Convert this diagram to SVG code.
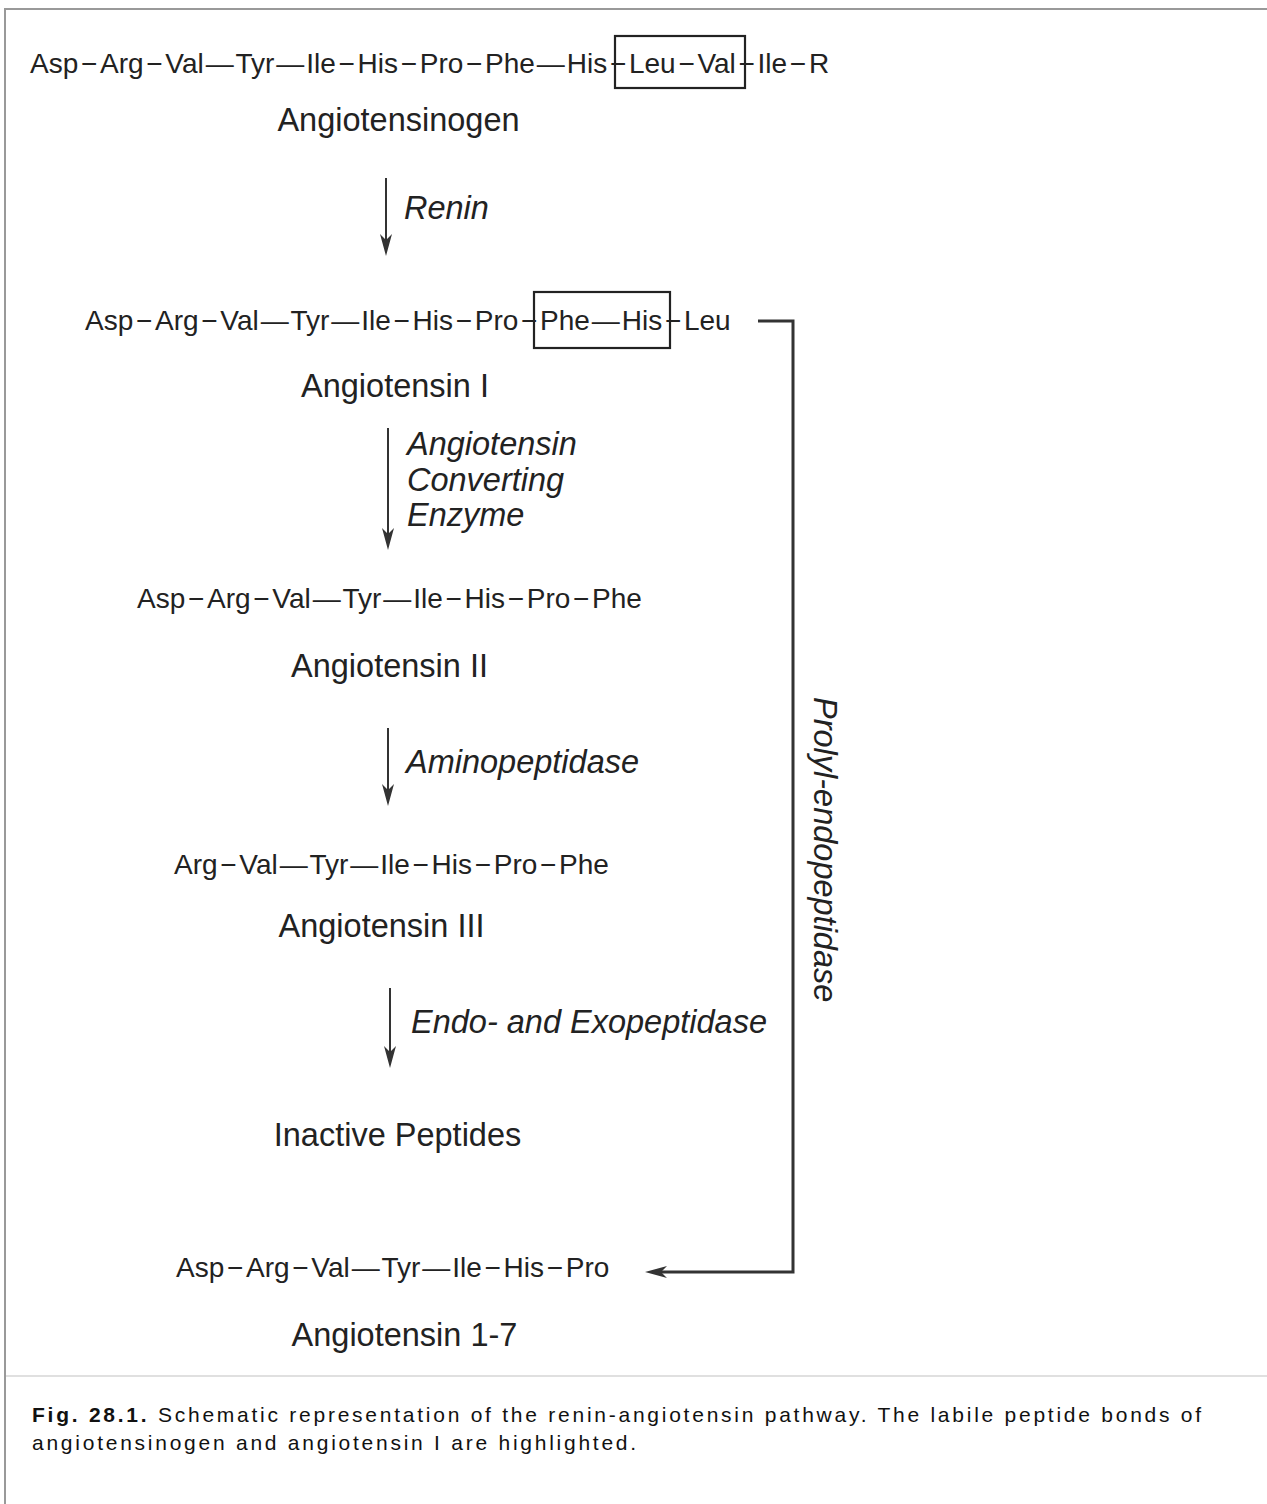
<svg xmlns="http://www.w3.org/2000/svg" width="1267" height="1504" viewBox="0 0 1267 1504">
  <style>
    .chain { font-family: "Liberation Sans", Arial, sans-serif; font-size: 28px; fill: #222; }
    .label { font-family: "Liberation Sans", Arial, sans-serif; font-size: 32.5px; fill: #222; text-anchor: middle; }
    .enz { font-family: "Liberation Sans", Arial, sans-serif; font-size: 32.5px; font-style: italic; fill: #222; }
    .cap { font-family: "Liberation Sans", Arial, sans-serif; font-size: 21px; letter-spacing: 2.75px; fill: #111; }
    .box { fill: none; stroke: #222; stroke-width: 2.2; }
    .arrow { fill: none; stroke: #333; stroke-width: 2; }
    .route { fill: none; stroke: #333; stroke-width: 3; }
    .frame { fill: none; stroke: #999; stroke-width: 2; }
  </style>
  <defs>
    <marker id="head" viewBox="-24 -7 26 14" refX="-10" refY="0" markerWidth="26" markerHeight="14" markerUnits="userSpaceOnUse" orient="auto">
      <path d="M0,0 L-22,-6 L-16,0 L-22,6 Z" fill="#333"/>
    </marker>
  </defs>

  <rect width="1267" height="1504" fill="#fff"/>

  <!-- page frame and caption rule -->
  <path class="frame" d="M5,1504 V9 H1267"/>
  <line x1="6" y1="1376" x2="1267" y2="1376" stroke="#e0e0e0" stroke-width="2"/>

  <!-- Angiotensinogen -->
  <g id="angiotensinogen">
    <text class="chain" x="30" y="73">Asp<tspan dx="2.7">−</tspan><tspan dx="2.7">Arg</tspan><tspan dx="2.7">−</tspan><tspan dx="2.7">Val</tspan><tspan dx="1.9">—</tspan><tspan dx="1.9">Tyr</tspan><tspan dx="1.9">—</tspan><tspan dx="1.9">Ile</tspan><tspan dx="2.7">−</tspan><tspan dx="2.7">His</tspan><tspan dx="2.7">−</tspan><tspan dx="2.7">Pro</tspan><tspan dx="2.7">−</tspan><tspan dx="2.7">Phe</tspan><tspan dx="1.9">—</tspan><tspan dx="1.9">His</tspan><tspan dx="2.7">−</tspan><tspan dx="2.7">Leu</tspan><tspan dx="2.7">−</tspan><tspan dx="2.7">Val</tspan><tspan dx="2.7">−</tspan><tspan dx="2.7">Ile</tspan><tspan dx="2.7">−</tspan><tspan dx="2.7">R</tspan></text>
    <rect class="box" x="615" y="36" width="130" height="52"/>
    <text class="label" x="398.5" y="131">Angiotensinogen</text>
  </g>

  <!-- Angiotensin I -->
  <g id="angiotensin-1">
    <text class="chain" x="85" y="330">Asp<tspan dx="2.7">−</tspan><tspan dx="2.7">Arg</tspan><tspan dx="2.7">−</tspan><tspan dx="2.7">Val</tspan><tspan dx="1.9">—</tspan><tspan dx="1.9">Tyr</tspan><tspan dx="1.9">—</tspan><tspan dx="1.9">Ile</tspan><tspan dx="2.7">−</tspan><tspan dx="2.7">His</tspan><tspan dx="2.7">−</tspan><tspan dx="2.7">Pro</tspan><tspan dx="2.7">−</tspan><tspan dx="2.7">Phe</tspan><tspan dx="1.9">—</tspan><tspan dx="1.9">His</tspan><tspan dx="2.7">−</tspan><tspan dx="2.7">Leu</tspan></text>
    <rect class="box" x="534" y="292" width="136" height="56"/>
    <text class="label" x="395" y="397">Angiotensin I</text>
  </g>

  <!-- Angiotensin II -->
  <g id="angiotensin-2">
    <text class="chain" x="137" y="608">Asp<tspan dx="2.7">−</tspan><tspan dx="2.7">Arg</tspan><tspan dx="2.7">−</tspan><tspan dx="2.7">Val</tspan><tspan dx="1.9">—</tspan><tspan dx="1.9">Tyr</tspan><tspan dx="1.9">—</tspan><tspan dx="1.9">Ile</tspan><tspan dx="2.7">−</tspan><tspan dx="2.7">His</tspan><tspan dx="2.7">−</tspan><tspan dx="2.7">Pro</tspan><tspan dx="2.7">−</tspan><tspan dx="2.7">Phe</tspan></text>
    <text class="label" x="389.5" y="677">Angiotensin II</text>
  </g>

  <!-- Angiotensin III -->
  <g id="angiotensin-3">
    <text class="chain" x="174" y="874">Arg<tspan dx="2.7">−</tspan><tspan dx="2.7">Val</tspan><tspan dx="1.9">—</tspan><tspan dx="1.9">Tyr</tspan><tspan dx="1.9">—</tspan><tspan dx="1.9">Ile</tspan><tspan dx="2.7">−</tspan><tspan dx="2.7">His</tspan><tspan dx="2.7">−</tspan><tspan dx="2.7">Pro</tspan><tspan dx="2.7">−</tspan><tspan dx="2.7">Phe</tspan></text>
    <text class="label" x="381.5" y="937">Angiotensin III</text>
  </g>

  <!-- Inactive peptides -->
  <g id="inactive-peptides">
    <text class="label" x="397.5" y="1146">Inactive Peptides</text>
  </g>

  <!-- Angiotensin 1-7 -->
  <g id="angiotensin-1-7">
    <text class="chain" x="176" y="1277">Asp<tspan dx="2.7">−</tspan><tspan dx="2.7">Arg</tspan><tspan dx="2.7">−</tspan><tspan dx="2.7">Val</tspan><tspan dx="1.9">—</tspan><tspan dx="1.9">Tyr</tspan><tspan dx="1.9">—</tspan><tspan dx="1.9">Ile</tspan><tspan dx="2.7">−</tspan><tspan dx="2.7">His</tspan><tspan dx="2.7">−</tspan><tspan dx="2.7">Pro</tspan></text>
    <text class="label" x="404.5" y="1346">Angiotensin 1-7</text>
  </g>

  <!-- enzymatic steps -->
  <g id="connectors">
    <line class="arrow" x1="386" y1="178" x2="386" y2="246" marker-end="url(#head)"/>
    <line class="arrow" x1="388" y1="428" x2="388" y2="540" marker-end="url(#head)"/>
    <line class="arrow" x1="388" y1="728" x2="388" y2="796" marker-end="url(#head)"/>
    <line class="arrow" x1="390" y1="988" x2="390" y2="1058" marker-end="url(#head)"/>
    <path class="route" d="M758,321 H793 V1272 H655" marker-end="url(#head)"/>
  </g>

  <!-- enzyme names -->
  <g id="enzymes">
    <text class="enz" x="404" y="219">Renin</text>
    <text class="enz" x="407" y="455">Angiotensin</text>
    <text class="enz" x="407" y="491">Converting</text>
    <text class="enz" x="407" y="526">Enzyme</text>
    <text class="enz" x="406" y="773">Aminopeptidase</text>
    <text class="enz" x="411" y="1033">Endo- and Exopeptidase</text>
    <text class="enz" transform="translate(814,697) rotate(90)">Prolyl-endopeptidase</text>
  </g>

  <!-- caption -->
  <g id="caption">
    <text class="cap" x="32" y="1422"><tspan font-weight="bold">Fig. 28.1.</tspan> Schematic representation of the renin-angiotensin pathway. The labile peptide bonds of</text>
    <text class="cap" x="32" y="1450">angiotensinogen and angiotensin I are highlighted.</text>
  </g>
</svg>
